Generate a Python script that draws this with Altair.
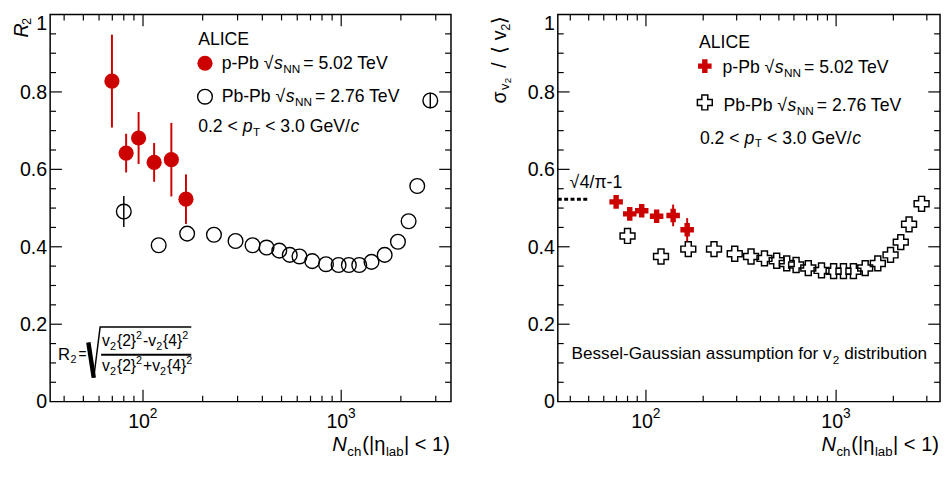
import altair as alt
import pandas as pd

# ---------------- data ----------------
ppb_nch = [69.7, 82.2, 95.0, 113.8, 139.0, 164.7]
ppb_r2 = [0.828, 0.642, 0.681, 0.618, 0.625, 0.523]
ppb_r2_err = [0.120, 0.050, 0.067, 0.050, 0.095, 0.064]
ppb_sig = [0.516, 0.485, 0.493, 0.479, 0.481, 0.444]
ppb_sig_err = [0.012, 0.010, 0.010, 0.010, 0.028, 0.030]

pbpb_nch = [80, 120, 167, 228, 293, 357, 420, 487, 550, 616, 714,
            838, 970, 1093, 1233, 1422, 1657, 1933, 2188, 2419, 2815]
pbpb_r2 = [0.491, 0.404, 0.434, 0.431, 0.415, 0.404, 0.398, 0.390, 0.379, 0.375, 0.363,
           0.355, 0.353, 0.353, 0.353, 0.361, 0.379, 0.413, 0.466, 0.557, 0.778]
pbpb_r2_err = [0.040, 0.0, 0.0, 0.0, 0.0, 0.0, 0.0, 0.0, 0.0, 0.0, 0.0,
               0.0, 0.0, 0.0, 0.0, 0.0, 0.0, 0.0, 0.0, 0.0, 0.020]
pbpb_sig = [0.428, 0.375, 0.394, 0.394, 0.382, 0.375, 0.370, 0.364, 0.357, 0.353, 0.345,
            0.339, 0.337, 0.337, 0.337, 0.345, 0.357, 0.379, 0.412, 0.458, 0.511]

bessel_limit = 0.523          # sqrt(4/pi - 1)
bessel_x = [34.4, 50.2]

x_major = [100, 1000]
x_minor = [40, 50, 60, 70, 80, 90, 200, 300, 400, 500, 600, 700, 800, 900, 2000, 3000]
x_label_base = ['10', '10']
x_label_exp = ['2', '3']
y_major = [0.2, 0.4, 0.6, 0.8]
y_minor = [0.05, 0.1, 0.15, 0.25, 0.3, 0.35, 0.45, 0.5, 0.55, 0.65, 0.7, 0.75, 0.85, 0.9, 0.95]
y_label_vals = [0, 0.2, 0.4, 0.6, 0.8]
y_label_text = ['0', '0.2', '0.4', '0.6', '0.8']
y_top_val = [1]
y_top_text = ['1']

# ---------------- layout / style ----------------
W1, W2, H = 409, 390, 395
SY = H / 405.0
FONT = 'Liberation Sans'
RED = '#cc0000'

AW = {' ': 278, '(': 333, ')': 333, '+': 584, '-': 333, '.': 278, '/': 278, '<': 584, '=': 584,
      '{': 334, '}': 334, '|': 260, 'A': 667, 'B': 667, 'C': 722, 'E': 667, 'G': 778, 'I': 278,
      'L': 556, 'N': 722, 'P': 667, 'T': 611, 'V': 667, 'R': 722, 'a': 556, 'b': 556, 'c': 500,
      'd': 556, 'e': 556, 'f': 278, 'h': 556, 'i': 222, 'l': 222, 'm': 833, 'n': 556, 'o': 556,
      'p': 556, 'r': 333, 's': 500, 't': 278, 'u': 556, 'v': 500, 'σ': 600, 'η': 556, 'π': 600,
      '⟨': 390, '⟩': 390, '√': 549}


def tw(s, fs):
    return sum(AW.get(c, 556) for c in s) * fs / 1000.0


def chain(rows, x0, base, parts):
    x = x0
    for t, fs, st, dy, gap in parts:
        x += gap
        rows.append(dict(px=x, py=base + dy, t=t, fs=fs, st=st, ang=0))
        x += tw(t, fs)
    return x


def xtitle(rows, W):
    parts = [("N", 20.5, 'i', 0, 0), ("ch", 13.5, 'n', 5, 0.5), ("(|η", 20.5, 'n', 0, 1),
             ("lab", 13.5, 'n', 5, 0.5), ("| < 1)", 20.5, 'n', 0, 0.5)]
    total = sum(tw(t, fs) + g for t, fs, _, _, g in parts)
    chain(rows, W - total - 1, H + 50, parts)


def legend_rows(rows, X, Y, xa, ya, x1, y1, x2, y2, x3, y3):
    chain(rows, X(xa), Y(ya), [("ALICE", 18, 'n', 0, 0)])
    chain(rows, X(x1), Y(y1), [("p-Pb", 18, 'n', 0, 0), ("√", 18, 'n', 0, 5), ("s", 18, 'i', 0, 0.5),
                               ("NN", 12, 'n', 4, 0.5), ("= 5.02 TeV", 18, 'n', 0, 3)])
    chain(rows, X(x2), Y(y2), [("Pb-Pb", 18, 'n', 0, 0), ("√", 18, 'n', 0, 5), ("s", 18, 'i', 0, 0.5),
                               ("NN", 12, 'n', 4, 0.5), ("= 2.76 TeV", 18, 'n', 0, 3)])
    chain(rows, X(x3), Y(y3), [("0.2 <", 18, 'n', 0, 0), ("p", 18, 'i', 0, 5), ("T", 12, 'n', 4, 0.5),
                               ("< 3.0 GeV/", 18, 'n', 0, 5), ("c", 18, 'i', 0, 0.5)])


def text_layers(rows):
    df = pd.DataFrame(rows)
    out = []
    for st, fstyle in [('n', 'normal'), ('i', 'italic')]:
        d = df[df.st == st]
        if len(d) == 0:
            continue
        out.append(alt.Chart(d).mark_text(align='left', baseline='alphabetic', font=FONT,
                                          fontStyle=fstyle, color='black').encode(
            x=alt.X('px:Q', scale=None, axis=None),
            y=alt.Y('py:Q', scale=None, axis=None),
            text='t:N',
            size=alt.Size('fs:Q', scale=None, legend=None),
            angle=alt.Angle('ang:Q', scale=None, legend=None)))
    return out


def line_layer(pts, width, color='black'):
    df = pd.DataFrame(pts, columns=['lx', 'ly'])
    df['o'] = range(len(df))
    return alt.Chart(df).mark_line(color=color, strokeWidth=width, strokeCap='butt').encode(
        x=alt.X('lx:Q', scale=None, axis=None), y=alt.Y('ly:Q', scale=None, axis=None), order='o:Q')


def glyph(px, py, **kw):
    return alt.Chart(pd.DataFrame({'px': [px], 'py': [py]})).mark_point(opacity=1, **kw).encode(
        x=alt.X('px:Q', scale=None, axis=None), y=alt.Y('py:Q', scale=None, axis=None))


def axis_layers(W, xs, ys):
    out = []
    for vals, ln in [(x_major, 12), (x_minor, 6)]:
        df = pd.DataFrame({'v': vals})
        out.append(alt.Chart(df).mark_rule(color='black', strokeWidth=1.2).encode(
            x=alt.X('v:Q', scale=xs, axis=None), y=alt.value(H), y2=alt.value(H - ln)))
        out.append(alt.Chart(df).mark_rule(color='black', strokeWidth=1.2).encode(
            x=alt.X('v:Q', scale=xs, axis=None), y=alt.value(0), y2=alt.value(ln)))
    for vals, ln in [(y_major, 12), (y_minor, 6)]:
        df = pd.DataFrame({'v': vals})
        out.append(alt.Chart(df).mark_rule(color='black', strokeWidth=1.2).encode(
            y=alt.Y('v:Q', scale=ys, axis=None), x=alt.value(0), x2=alt.value(ln)))
        out.append(alt.Chart(df).mark_rule(color='black', strokeWidth=1.2).encode(
            y=alt.Y('v:Q', scale=ys, axis=None), x=alt.value(W), x2=alt.value(W - ln)))
    # tick labels
    xl = pd.DataFrame({'v': x_major, 'b': x_label_base, 'e': x_label_exp})
    out.append(alt.Chart(xl).mark_text(font=FONT, fontSize=20, align='center', baseline='alphabetic',
                                       dx=-4, color='black').encode(
        x=alt.X('v:Q', scale=xs, axis=None), y=alt.value(H + 27), text='b:N'))
    out.append(alt.Chart(xl).mark_text(font=FONT, fontSize=14, align='left', baseline='alphabetic',
                                       dx=7, color='black').encode(
        x=alt.X('v:Q', scale=xs, axis=None), y=alt.value(H + 17), text='e:N'))
    yl = pd.DataFrame({'v': y_label_vals, 't': y_label_text})
    out.append(alt.Chart(yl).mark_text(font=FONT, fontSize=20, align='right', baseline='middle',
                                       dy=1, color='black').encode(
        y=alt.Y('v:Q', scale=ys, axis=None), x=alt.value(-3), text='t:N'))
    yt = pd.DataFrame({'v': y_top_val, 't': y_top_text})
    out.append(alt.Chart(yt).mark_text(font=FONT, fontSize=20, align='right', baseline='top',
                                       dy=0, color='black').encode(
        y=alt.Y('v:Q', scale=ys, axis=None), x=alt.value(-3), text='t:N'))
    return out


def err_frame(n, v, e):
    rows = [dict(n=a, lo=b - c, hi=b + c) for a, b, c in zip(n, v, e) if c > 0]
    return pd.DataFrame(rows)


ys = alt.Scale(domain=[0, 1], nice=False, zero=False)

# ---------------- left panel ----------------
xs1 = alt.Scale(type='log', domain=[34, 3580], nice=False)
pbpb_l = pd.DataFrame({'n': pbpb_nch, 'v': pbpb_r2})
ppb_l = pd.DataFrame({'n': ppb_nch, 'v': ppb_r2})

L = [
    alt.Chart(err_frame(pbpb_nch, pbpb_r2, pbpb_r2_err)).mark_rule(color='black', strokeWidth=1.5).encode(
        x=alt.X('n:Q', scale=xs1, axis=None), y=alt.Y('lo:Q', scale=ys, axis=None), y2='hi:Q'),
    alt.Chart(pbpb_l).mark_point(shape='circle', filled=False, color='black', size=225,
                                 strokeWidth=1.4, opacity=1).encode(
        x=alt.X('n:Q', scale=xs1, axis=None), y=alt.Y('v:Q', scale=ys, axis=None)),
    alt.Chart(err_frame(ppb_nch, ppb_r2, ppb_r2_err)).mark_rule(color=RED, strokeWidth=2).encode(
        x=alt.X('n:Q', scale=xs1, axis=None), y=alt.Y('lo:Q', scale=ys, axis=None), y2='hi:Q'),
    alt.Chart(ppb_l).mark_point(shape='circle', filled=True, color=RED, size=240, opacity=1).encode(
        x=alt.X('n:Q', scale=xs1, axis=None), y=alt.Y('v:Q', scale=ys, axis=None)),
]
L += axis_layers(W1, xs1, ys)

lx = lambda x: x - 48
ly = lambda y: (y - 8) * SY
rows_l = []
legend_rows(rows_l, lx, ly, 199, 40, 223, 65, 223, 100, 199, 131)
# formula
chain(rows_l, lx(56), ly(369), [("R", 17, 'n', 0, 0), ("2", 11, 'n', 4, 0.5)])
chain(rows_l, lx(77), ly(368), [("=", 14, 'n', 0, 0)])
num = [("v", 16, 'n', 0, 0), ("2", 11, 'n', 4, 0), ("{2}", 16, 'n', 0, 1), ("2", 11, 'n', -7, 0),
       ("-", 16, 'n', 0, 1), ("v", 16, 'n', 0, 0), ("2", 11, 'n', 4, 0), ("{4}", 16, 'n', 0, 1),
       ("2", 11, 'n', -7, 0)]
den = [p if p[0] != "-" else ("+", 16, 'n', 0, 1) for p in num]
chain(rows_l, lx(101), ly(355), num)
chain(rows_l, lx(101), ly(381), den)
# y title
rows_l.append(dict(px=-23, py=ly(32), t="R", fs=20, st='i', ang=270))
rows_l.append(dict(px=-20, py=ly(19), t="2", fs=13, st='n', ang=270))
xtitle(rows_l, W1)

L += text_layers(rows_l)
L += [
    line_layer([(lx(87), ly(351)), (lx(92.5), ly(388))], 4.5),
    line_layer([(lx(92.5), ly(388)), (lx(99), ly(335)), (lx(192), ly(335))], 1.5),
    line_layer([(lx(100), ly(364)), (lx(192), ly(364))], 2),
    glyph(lx(206), ly(59), shape='circle', filled=True, color=RED, size=240),
    glyph(lx(206), ly(94), shape='circle', filled=False, color='black', size=225, strokeWidth=1.4),
]
left = alt.layer(*L).properties(width=W1, height=H)

# ---------------- right panel ----------------
xs2 = alt.Scale(type='log', domain=[34.4, 3520], nice=False)
pbpb_r = pd.DataFrame({'n': pbpb_nch, 'v': pbpb_sig})
ppb_r = pd.DataFrame({'n': ppb_nch, 'v': ppb_sig})
bes = pd.DataFrame({'x1': [bessel_x[0]], 'x2': [bessel_x[1]], 'y': [bessel_limit]})

R = [
    alt.Chart(pbpb_r).mark_point(shape='cross', filled=False, color='black', size=230,
                                 strokeWidth=1.5, opacity=1).encode(
        x=alt.X('n:Q', scale=xs2, axis=None), y=alt.Y('v:Q', scale=ys, axis=None)),
    alt.Chart(err_frame(ppb_nch, ppb_sig, ppb_sig_err)).mark_rule(color=RED, strokeWidth=2).encode(
        x=alt.X('n:Q', scale=xs2, axis=None), y=alt.Y('lo:Q', scale=ys, axis=None), y2='hi:Q'),
    alt.Chart(ppb_r).mark_point(shape='cross', filled=True, color=RED, size=190, opacity=1).encode(
        x=alt.X('n:Q', scale=xs2, axis=None), y=alt.Y('v:Q', scale=ys, axis=None)),
    alt.Chart(bes).mark_rule(color='black', strokeWidth=3, strokeDash=[4, 2.5]).encode(
        x=alt.X('x1:Q', scale=xs2, axis=None), x2='x2:Q', y=alt.Y('y:Q', scale=ys, axis=None)),
]
R += axis_layers(W2, xs2, ys)

rx = lambda x: x - 558
rows_r = []
legend_rows(rows_r, rx, ly, 702, 43, 726, 69, 727, 109, 703, 143)
chain(rows_r, rx(570), ly(190), [("√", 18, 'n', 0, 0), ("4/π-1", 18, 'n', 0, 0.5)])
chain(rows_r, rx(572), ly(368), [("Bessel-Gaussian assumption for v", 17.5, 'n', 0, 0),
                                 ("2", 12, 'n', 5, 1), ("distribution", 17.5, 'n', 0, 5)])
# rotated y title
for t, fs, st, dx, y0 in [("σ", 20, 'n', 0, 101), ("v", 13, 'n', 3, 87), ("2", 10, 'n', 5, 80),
                          ("/", 20, 'n', 0, 64), ("⟨", 20, 'n', 0, 49), ("v", 20, 'n', 0, 35),
                          ("2", 13, 'n', 4, 25), ("⟩", 20, 'n', 0, 18)]:
    rows_r.append(dict(px=-53 + dx, py=ly(y0), t=t, fs=fs, st=st, ang=270))
xtitle(rows_r, W2)
R += text_layers(rows_r)
R += [
    glyph(rx(708), ly(62), shape='cross', filled=True, color=RED, size=190),
    glyph(rx(708), ly(100), shape='cross', filled=False, color='black', size=230, strokeWidth=1.5),
]
right = alt.layer(*R).properties(width=W2, height=H)

chart = alt.hconcat(left, right, spacing=37).properties(
    padding={'left': 3, 'top': 0, 'right': 0, 'bottom': 0}
).configure(font=FONT).configure_view(stroke='black', strokeWidth=1.5)

chart.save("out.html", embed_options={"renderer": "svg", "actions": False})
